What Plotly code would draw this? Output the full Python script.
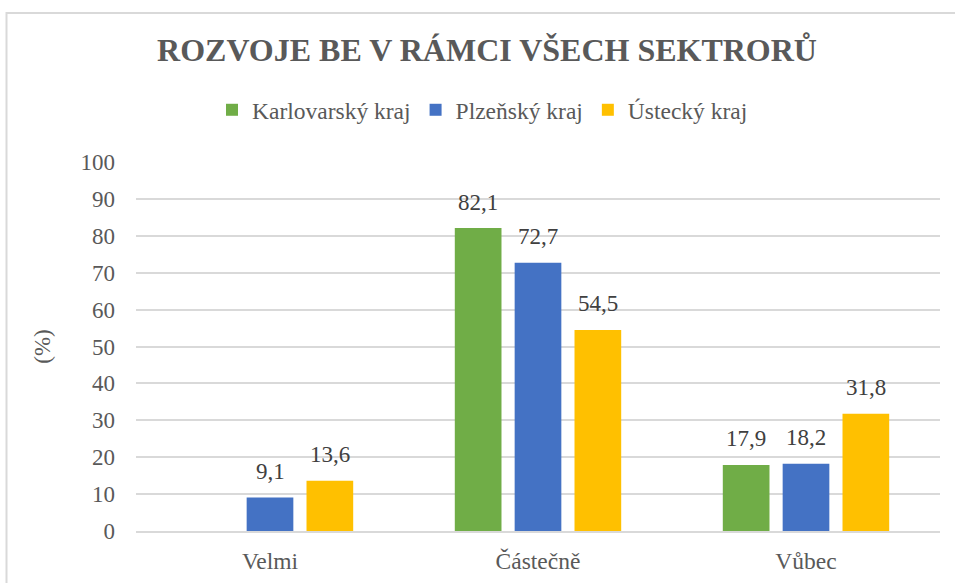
import plotly.graph_objects as go

categories = ["Velmi", "Částečně", "Vůbec"]
series_names = ["Karlovarský kraj", "Plzeňský kraj", "Ústecký kraj"]
karlovarsky = [None, 82.1, 17.9]
plzensky = [9.1, 72.7, 18.2]
ustecky = [13.6, 54.5, 31.8]
colors = ["#70AD47", "#4472C4", "#FFC000"]
y_ticks = list(range(0, 101, 10))

W, H = 955, 583
L, R, T, B = 136, 15, 162, 52
pw, ph = W - L - R, H - T - B
BARGAP, GROUPGAP = 0.33, 0.22
slot = (pw / len(categories)) * (1 - BARGAP) / len(series_names)
FONT = "Liberation Serif"
GREY = "#595959"

fig = go.Figure()
all_series = [karlovarsky, plzensky, ustecky]
for name, vals, col in zip(series_names, all_series, colors):
    fig.add_trace(go.Bar(x=categories, y=vals, name=name, marker_color=col,
                         marker_line_width=0))

annotations = []
for j, vals in enumerate(all_series):
    for cat, v in zip(categories, vals):
        if v is None:
            continue
        annotations.append(dict(
            x=cat, y=v, xref="x", yref="y",
            text=f"{v:.1f}".replace(".", ","), showarrow=False,
            xshift=(j - 1) * slot, yshift=26, yanchor="middle",
            font=dict(family=FONT, size=23, color="#404040")))

fig.update_layout(
    width=W, height=H,
    margin=dict(l=L, r=R, t=T, b=B),
    paper_bgcolor="white", plot_bgcolor="white",
    barmode="group", bargap=BARGAP, bargroupgap=GROUPGAP,
    font=dict(family=FONT, size=23, color=GREY),
    title=dict(text="<b>ROZVOJE BE V RÁMCI VŠECH SEKTRORŮ</b>",
               x=487 / W, xref="container", xanchor="center",
               y=1 - 50 / H, yref="container", yanchor="middle",
               font=dict(family=FONT, size=32, color=GREY)),
    legend=dict(orientation="h", x=0.5 + 5 / W, xanchor="center", xref="container",
                y=1 - 110 / H, yref="container", yanchor="middle",
                font=dict(family=FONT, size=23.5, color=GREY),
                itemwidth=30, traceorder="normal"),
    showlegend=True,
    annotations=annotations,
)
fig.update_yaxes(range=[0, 100], tickvals=y_ticks, showgrid=True, gridcolor="#D9D9D9",
                 gridwidth=1.5, zeroline=False, showline=False, ticks="",
                 ticklabelstandoff=20, automargin=False,
                 tickfont=dict(family=FONT, size=23, color=GREY),
                 title=dict(text="(%)", standoff=23,
                            font=dict(family=FONT, size=23, color=GREY)))
fig.update_xaxes(showline=True, linecolor="#D9D9D9", linewidth=1.5, ticks="",
                 ticklabelstandoff=8, automargin=False,
                 tickfont=dict(family=FONT, size=23.5, color=GREY))

fig.add_shape(type="rect", xref="paper", yref="paper",
              x0=(6.5 - L) / pw, x1=1.1, y0=-0.5, y1=1 + (T - 13) / ph,
              line=dict(color="#D9D9D9", width=2), fillcolor="rgba(0,0,0,0)", layer="below")

fig.write_html("out.html", config={"displayModeBar": False},
               post_script="document.body.style.margin='0';document.body.style.overflow='hidden';")
